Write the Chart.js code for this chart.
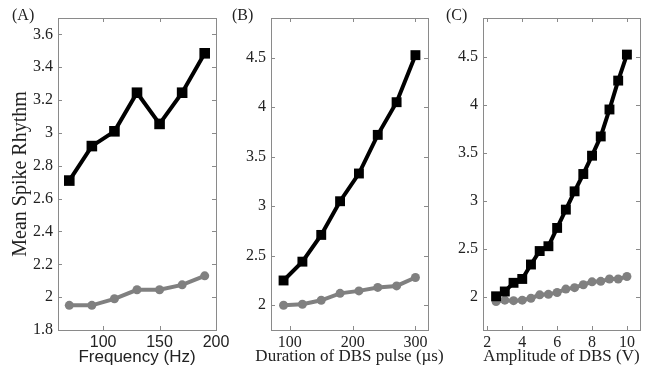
<!DOCTYPE html>
<html>
<head>
<meta charset="utf-8">
<script src="https://cdn.jsdelivr.net/npm/chart.js@4.4.0/dist/chart.umd.min.js"></script>
<style>
    html, body { margin: 0; padding: 0; background: #fff; }
    #wrap { position: relative; width: 654px; height: 367px; }
    #wrap canvas { position: absolute; left: 0; top: 0; }
</style>
</head>
<body>
<div id="wrap">
    <canvas id="chartA" width="654" height="367"></canvas>
    <canvas id="chartB" width="654" height="367"></canvas>
    <canvas id="chartC" width="654" height="367"></canvas>
</div>
<script>
// Panel A - frequency
const freqHz = [70, 90, 110, 130, 150, 170, 190];
const freqBlack = [2.71, 2.92, 3.01, 3.245, 3.055, 3.245, 3.485];
const freqGray = [1.95, 1.95, 1.99, 2.045, 2.045, 2.075, 2.13];
const freqXTicks = [100, 150, 200];
const freqYTicks = [1.8, 2, 2.2, 2.4, 2.6, 2.8, 3, 3.2, 3.4, 3.6];

// Panel B - pulse duration
const durationUs = [90, 120, 150, 180, 210, 240, 270, 300];
const durationBlack = [2.25, 2.44, 2.71, 3.05, 3.33, 3.72, 4.05, 4.525];
const durationGray = [2.0, 2.01, 2.05, 2.12, 2.145, 2.18, 2.195, 2.28];
const durationXTicks = [100, 200, 300];
const durationYTicks = [2, 2.5, 3, 3.5, 4, 4.5];

// Panel C - amplitude
const amplitudeV = [2.5, 3, 3.5, 4, 4.5, 5, 5.5, 6, 6.5, 7, 7.5, 8, 8.5, 9, 9.5, 10];
const amplitudeBlack = [2.01, 2.06, 2.15, 2.19, 2.34, 2.48, 2.53, 2.72, 2.91, 3.10, 3.28, 3.47, 3.67, 3.95, 4.25, 4.52];
const amplitudeGray = [1.955, 1.97, 1.965, 1.97, 1.99, 2.025, 2.03, 2.05, 2.085, 2.10, 2.13, 2.16, 2.165, 2.19, 2.19, 2.215];
const amplitudeXTicks = [2, 4, 6, 8, 10];
const amplitudeYTicks = [2, 2.5, 3, 3.5, 4, 4.5];

const SERIF = '"Liberation Serif", "DejaVu Serif", serif';
const SANS = '"Liberation Sans", Arial, sans-serif';
const FRAME = '#8a8a8a';

// MATLAB-style box with inward ticks on all four sides, panel letter and x title
// (x title drawn here because Chart.js squeezes titles wider than the chart area)
const boxPlugin = {
    id: 'matlabBox',
    afterDraw(chart, args, opts) {
        const ctx = chart.ctx;
        const a = chart.chartArea;
        const xs = chart.scales.x;
        const ys = chart.scales.y;
        ctx.save();
        ctx.strokeStyle = FRAME;
        ctx.lineWidth = 1;
        ctx.strokeRect(Math.round(a.left) + 0.5, Math.round(a.top) + 0.5,
            Math.round(a.right - a.left), Math.round(a.bottom - a.top));
        ctx.beginPath();
        xs.ticks.forEach(t => {
            const px = Math.round(xs.getPixelForValue(t.value)) + 0.5;
            ctx.moveTo(px, a.bottom); ctx.lineTo(px, a.bottom - 4);
            ctx.moveTo(px, a.top); ctx.lineTo(px, a.top + 4);
        });
        ys.ticks.forEach(t => {
            const py = Math.round(ys.getPixelForValue(t.value)) + 0.5;
            ctx.moveTo(a.left, py); ctx.lineTo(a.left + 4, py);
            ctx.moveTo(a.right, py); ctx.lineTo(a.right - 4, py);
        });
        ctx.stroke();

        ctx.fillStyle = '#222';
        ctx.textBaseline = 'middle';
        ctx.font = '16px ' + SERIF;
        ctx.textAlign = 'left';
        ctx.fillText(opts.label, opts.labelX, 16);

        ctx.font = '17px ' + opts.xTitleFont;
        ctx.textAlign = 'center';
        ctx.fillText(opts.xTitle, (a.left + a.right) / 2, 357);
        ctx.restore();
    }
};

function points(xs, ys) {
    return xs.map((x, i) => ({ x: x, y: ys[i] }));
}

function makePanel(id, cfg) {
    const ctx = document.getElementById(id).getContext('2d');
    new Chart(ctx, {
        type: 'line',
        data: {
            datasets: [{
                data: points(cfg.xValues, cfg.black),
                borderColor: '#000',
                backgroundColor: '#000',
                borderWidth: 4,
                pointStyle: 'rect',
                pointRadius: cfg.squareRadius,
                pointBorderWidth: 0,
                tension: 0
            }, {
                data: points(cfg.xValues, cfg.gray),
                borderColor: '#808080',
                backgroundColor: '#808080',
                borderWidth: 4,
                pointStyle: 'circle',
                pointRadius: 4.5,
                pointBorderWidth: 0,
                tension: 0
            }]
        },
        plugins: [boxPlugin],
        options: {
            responsive: false,
            animation: false,
            layout: {
                padding: { left: cfg.padLeft, right: cfg.padRight, top: 18, bottom: 0 }
            },
            plugins: {
                legend: { display: false },
                tooltip: { enabled: false },
                matlabBox: { label: cfg.label, labelX: cfg.labelX, xTitle: cfg.xTitle, xTitleFont: cfg.xTitleFont }
            },
            scales: {
                x: {
                    type: 'linear',
                    min: cfg.xMin,
                    max: cfg.xMax,
                    grid: { display: false, drawTicks: false },
                    border: { display: false },
                    afterBuildTicks: s => { s.ticks = cfg.xTicks.map(v => ({ value: v })); },
                    afterFit: s => { s.height = 37; },
                    ticks: {
                        autoSkip: false,
                        maxRotation: 0,
                        padding: 3,
                        color: '#222',
                        font: { family: cfg.xTickFont, size: 16 },
                        callback: v => String(v)
                    }
                },
                y: {
                    type: 'linear',
                    min: cfg.yMin,
                    max: cfg.yMax,
                    grid: { display: false, drawTicks: false },
                    border: { display: false },
                    afterBuildTicks: s => { s.ticks = cfg.yTicks.map(v => ({ value: v })); },
                    afterFit: s => { s.width = cfg.yWidth; },
                    ticks: {
                        autoSkip: false,
                        padding: 5,
                        color: '#222',
                        font: { family: SERIF, size: 16 },
                        callback: v => String(v)
                    },
                    title: {
                        display: !!cfg.yTitle,
                        text: cfg.yTitle || '',
                        color: '#222',
                        font: { family: SERIF, size: 20 },
                        padding: { top: 9, bottom: 0 }
                    }
                }
            }
        }
    });
}

makePanel('chartA', {
    label: '(A)', labelX: 12,
    xValues: freqHz, black: freqBlack, gray: freqGray,
    xMin: 60, xMax: 200, xTicks: freqXTicks,
    yMin: 1.8, yMax: 3.7, yTicks: freqYTicks,
    xTitle: 'Frequency (Hz)', xTitleFont: SANS, xTickFont: SANS,
    yTitle: 'Mean Spike Rhythm',
    padLeft: 0, yWidth: 58, padRight: 654 - 216,
    squareRadius: 7.5
});

makePanel('chartB', {
    label: '(B)', labelX: 232,
    xValues: durationUs, black: durationBlack, gray: durationGray,
    xMin: 70, xMax: 320, xTicks: durationXTicks,
    yMin: 1.75, yMax: 4.9, yTicks: durationYTicks,
    xTitle: 'Duration of DBS pulse (\u00b5s)', xTitleFont: SERIF, xTickFont: SERIF,
    padLeft: 230, yWidth: 41, padRight: 654 - 428,
    squareRadius: 7
});

makePanel('chartC', {
    label: '(C)', labelX: 446,
    xValues: amplitudeV, black: amplitudeBlack, gray: amplitudeGray,
    xMin: 1.75, xMax: 10.75, xTicks: amplitudeXTicks,
    yMin: 1.66, yMax: 4.9, yTicks: amplitudeYTicks,
    xTitle: 'Amplitude of DBS (V)', xTitleFont: SERIF, xTickFont: SERIF,
    padLeft: 440, yWidth: 43, padRight: 654 - 640,
    squareRadius: 7
});
</script>
</body>
</html>
